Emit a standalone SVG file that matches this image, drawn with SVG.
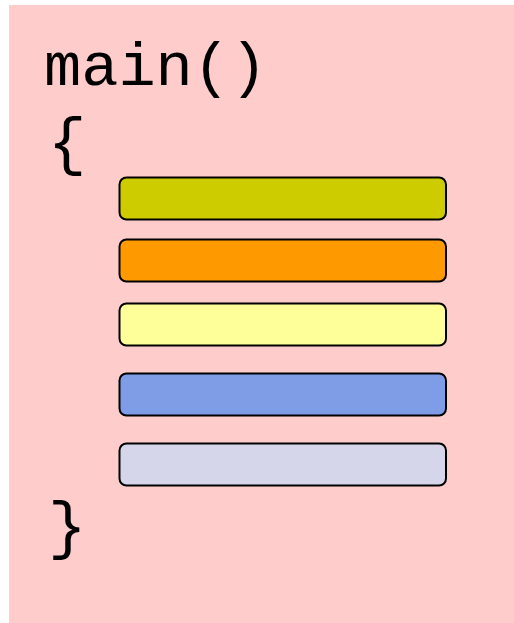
<svg xmlns="http://www.w3.org/2000/svg" width="514" height="623" viewBox="0 0 514 623">
<style>
.code{font-family:"Liberation Mono","Courier New",monospace;font-size:62px;fill:#000}
.brace{font-family:"Liberation Mono","Courier New",monospace;font-size:64px;fill:#000}
.bar{stroke:#000;stroke-width:2}
</style>
<rect x="9" y="5" width="505" height="618" fill="#ffcccc"/>
<g id="header"><text class="code" x="44" y="85">main()</text></g>
<g id="open-brace"><text class="brace" x="48" y="163">{</text></g>
<g id="bar1"><rect class="bar" x="119.5" y="177.5" width="326.5" height="42" rx="7" fill="#cccc00"/></g>
<g id="bar2"><rect class="bar" x="119.5" y="239.5" width="326.5" height="42" rx="7" fill="#ff9900"/></g>
<g id="bar3"><rect class="bar" x="119.5" y="303.5" width="326.5" height="42" rx="7" fill="#ffff99"/></g>
<g id="bar4"><rect class="bar" x="119.5" y="373.5" width="326.5" height="42" rx="7" fill="#7f9ce6"/></g>
<g id="bar5"><rect class="bar" x="119.5" y="443.5" width="326.5" height="42" rx="7" fill="#d6d6eb"/></g>
<g id="close-brace"><text class="brace" x="48" y="547">}</text></g>
<g id="connectors"></g>
</svg>
